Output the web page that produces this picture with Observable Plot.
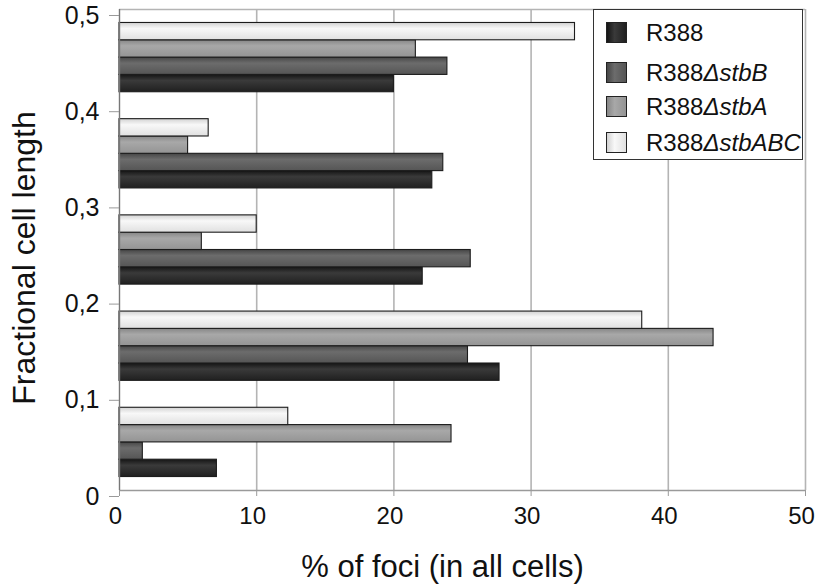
<!DOCTYPE html>
<html>
<head>
<meta charset="utf-8">
<script src="https://cdn.jsdelivr.net/npm/d3@7"></script>
<script src="https://cdn.jsdelivr.net/npm/@observablehq/plot@0.6"></script>
<style>
  html, body { margin: 0; padding: 0; background: #fff; }
  #wrap { position: relative; width: 817px; height: 585px; font-family: "Liberation Sans", Arial, Helvetica, sans-serif; }
  #legend { position: absolute; left: 593px; top: 9px; width: 208px; height: 149px; border: 1.5px solid #333; background: #fff; color: #111; font-size: 24px; }
  .row { position: absolute; left: 12px; height: 21px; display: flex; align-items: center; white-space: nowrap; }
  .sw { width: 19px; height: 19px; border: 1.2px solid #222; margin-right: 19px; flex: none; }
  .row i { font-style: italic; }
</style>
</head>
<body>
<div id="wrap"></div>
<script>
// ---- data ----
const bins = [0, 0.1, 0.2, 0.3, 0.4];              // bin start (fractional cell length)
const series = ["R388", "R388ΔstbB", "R388ΔstbA", "R388ΔstbABC"];
const r388   = [7.1, 27.7, 22.1, 22.8, 20.0];
const stbB   = [1.7, 25.4, 25.6, 23.6, 23.9];
const stbA   = [24.2, 43.3, 6.0, 5.0, 21.6];
const stbABC = [12.3, 38.1, 10.0, 6.5, 33.2];
const xTicks = [0, 10, 20, 30, 40, 50];
const yTicks = [0, 0.1, 0.2, 0.3, 0.4, 0.5];

// ---- styles ----
const shades = [
  ["#151515", "#3a3a3a", "#202020"],
  ["#464646", "#6c6c6c", "#555555"],
  ["#868686", "#a8a8a8", "#949494"],
  ["#d2d2d2", "#f8f8f8", "#e0e0e0"]
];
const fills = shades.map((_, i) => `url(#grad${i})`);
const binWidth = 0.1, fillFrac = 0.72;

// ---- table ----
const values = [r388, stbB, stbA, stbABC];
const bw = binWidth * fillFrac / series.length;
const pad = (binWidth - bw * series.length) / 2;
const rows = [];
series.forEach((s, si) => {
  bins.forEach((b, bi) => {
    rows.push({series: s, value: values[si][bi], y1: b + pad + si * bw, y2: b + pad + (si + 1) * bw});
  });
});

const fmt = d => d === 0 ? "0" : d3.format(".1f")(d).replace(".", ",");

const chart = Plot.plot({
  width: 817,
  height: 585,
  marginLeft: 119,
  marginRight: 12,
  marginTop: 9,
  marginBottom: 95,
  style: {fontFamily: '"Liberation Sans", Arial, Helvetica, sans-serif', fontSize: "24px", color: "#111", background: "#fff"},
  x: {domain: [0, 50]},
  y: {domain: [0, 0.5]},
  color: {domain: series, range: fills},
  marks: [
    Plot.ruleX(xTicks.slice(1), {stroke: "#b4b4b4", strokeWidth: 1.6}),
    Plot.ruleY([0.5], {stroke: "#b4b4b4", strokeWidth: 1.6}),
    Plot.rect(rows, {x1: d => 0, x2: "value", y1: "y1", y2: "y2", fill: "series", stroke: "#1c1c1c", strokeWidth: 1.1}),
    Plot.ruleY([0], {stroke: "#9a9a9a", strokeWidth: 1.6}),
    Plot.ruleX([0], {stroke: "#777", strokeWidth: 1.4}),
    Plot.axisX({ticks: xTicks, tickSize: 6, stroke: "#9a9a9a", fill: "none", label: null}),
    Plot.axisX({ticks: xTicks, tickSize: 0, tickPadding: 16, dx: -4, stroke: "none", fill: "#111", label: null, fontSize: 24, tickFormat: d => String(d)}),
    Plot.axisY({ticks: yTicks, tickSize: 10, tickPadding: 10, stroke: "#9a9a9a", fill: "#111", label: null, fontSize: 25, tickFormat: fmt, dy: 6}),
    Plot.text(["% of foci (in all cells)"], {frameAnchor: "bottom", textAnchor: "middle", lineAnchor: "middle", dx: -20, dy: 77, fontSize: 31, fill: "#111"}),
    Plot.text(["Fractional cell length"], {frameAnchor: "left", textAnchor: "middle", lineAnchor: "middle", rotate: -90, dx: -95, dy: 8, fontSize: 32, fill: "#111"})
  ]
});

// gradients
const ns = "http://www.w3.org/2000/svg";
const defs = document.createElementNS(ns, "defs");
shades.forEach((c, i) => {
  const g = document.createElementNS(ns, "linearGradient");
  g.setAttribute("id", `grad${i}`);
  g.setAttribute("x1", "0"); g.setAttribute("y1", "0");
  g.setAttribute("x2", "0"); g.setAttribute("y2", "1");
  [[0, c[0]], [0.35, c[1]], [1, c[2]]].forEach(([o, col]) => {
    const st = document.createElementNS(ns, "stop");
    st.setAttribute("offset", o);
    st.setAttribute("stop-color", col);
    g.appendChild(st);
  });
  defs.appendChild(g);
});
chart.insertBefore(defs, chart.firstChild);

const wrap = document.getElementById("wrap");
wrap.appendChild(chart);

// legend (HTML overlay)
const legend = document.createElement("div");
legend.id = "legend";
const rowTops = [12, 52, 86, 122];
series.forEach((s, i) => {
  const r = document.createElement("div");
  r.className = "row";
  r.style.top = rowTops[i] + "px";
  const sw = document.createElement("div");
  sw.className = "sw";
  sw.style.background = `linear-gradient(to right, ${shades[i][0]}, ${shades[i][1]} 40%, ${shades[i][2]})`;
  r.appendChild(sw);
  const lab = document.createElement("span");
  const m = s.match(/^(R388)(Δ.*)?$/);
  lab.innerHTML = m[1] + (m[2] ? `<i>${m[2]}</i>` : "");
  r.appendChild(lab);
  legend.appendChild(r);
});
wrap.appendChild(legend);
</script>
</body>
</html>
